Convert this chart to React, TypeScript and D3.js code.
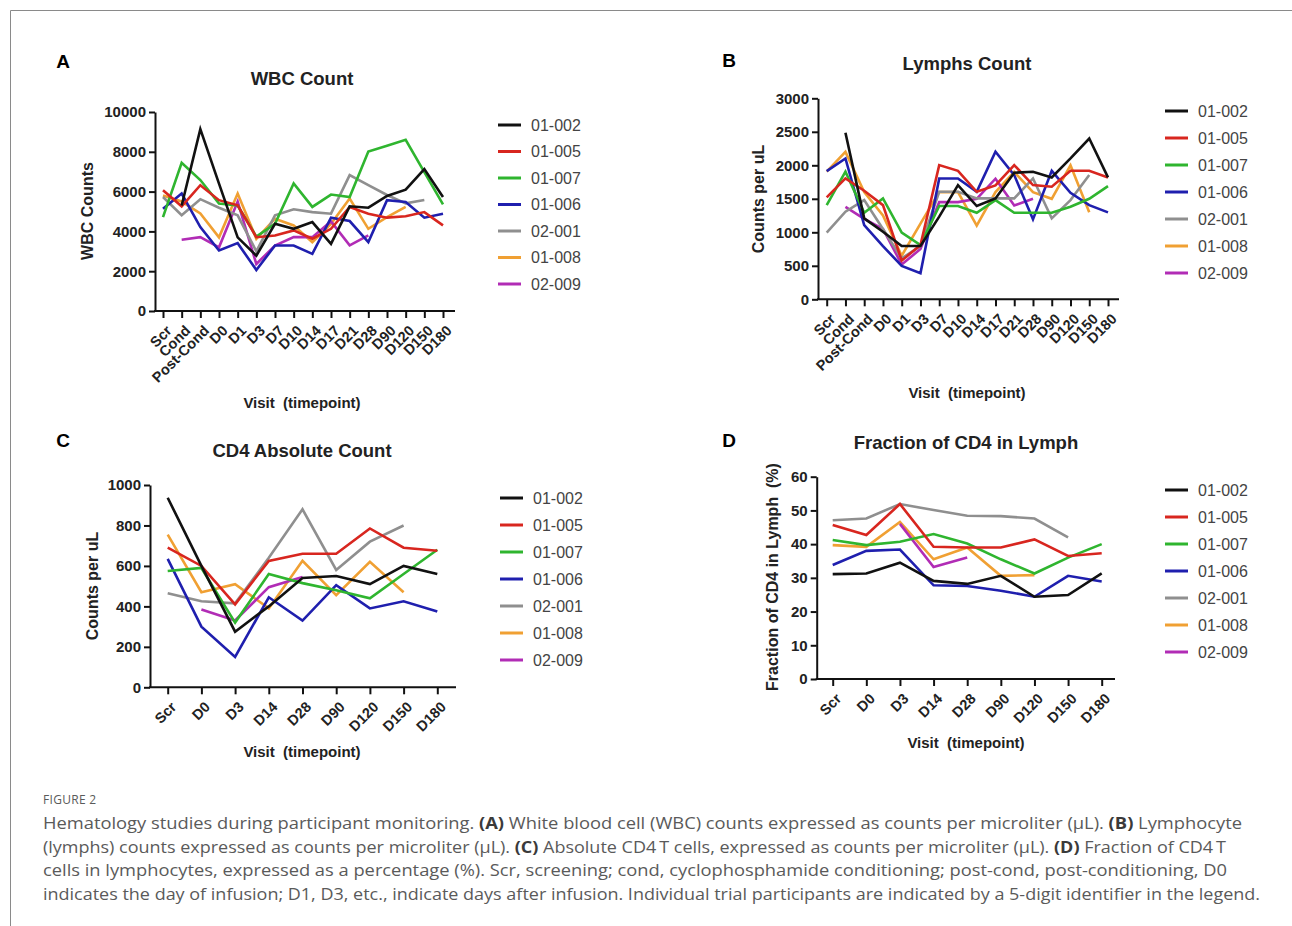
import * as d3 from "d3";
import React, { useEffect, useRef } from "react";

// participants + colours (legend order)
const participants = ["01-002", "01-005", "01-007", "01-006", "02-001", "01-008", "02-009"];
const lineColors = ["#111111", "#d8261f", "#2fb52f", "#1f1fae", "#8f8f8f", "#f0a033", "#b12cb5"];

const visitsLong = ["Scr", "Cond", "Post-Cond", "D0", "D1", "D3", "D7", "D10", "D14", "D17", "D21", "D28", "D90", "D120", "D150", "D180"];
const visitsShort = ["Scr", "D0", "D3", "D14", "D28", "D90", "D120", "D150", "D180"];

type V = number | null;

// A - WBC count
const wbc0102: V[] = [null, 5300, 9140, 6400, 3700, 2780, 4380, 4130, 4470, 3370, 5260, 5190, 5780, 6100, 7130, 5730];
const wbc0105: V[] = [6070, 5260, 6320, 5570, 5310, 3710, 3790, 4050, 3630, 4130, 5230, 4890, 4690, 4760, 4970, 4300];
const wbc0107: V[] = [4720, 7450, 6580, 5400, 5300, 3740, 4380, 6410, 5230, 5850, 5730, 8010, 8300, 8600, 6980, 5360];
const wbc0106: V[] = [5140, 5900, 4220, 3040, 3410, 2060, 3290, 3290, 2870, 4690, 4520, 3460, 5570, 5480, 4690, 4890];
const wbc0201: V[] = [5730, 4810, 5620, 5190, 4810, 3000, 4810, 5110, 4970, 4890, 6830, 6320, 5830, 5410, 5580, null];
const wbc0108: V[] = [5800, 5500, 4900, 3700, 5900, 3630, 4640, 4300, 3460, 4380, 5650, 4130, 4720, 5230, null, null];
const wbc0209: V[] = [null, 3580, 3710, 3200, 5500, 2360, 3290, 3710, 3710, 4500, 3300, 3800, null, null, null, null];

// B - lymphs count
const lym0102: V[] = [null, 2485, 1208, 1009, 795, 795, 1233, 1705, 1392, 1506, 1889, 1904, 1819, 2102, 2400, 1819];
const lym0105: V[] = [1521, 1804, 1620, 1406, 577, 810, 2003, 1918, 1605, 1700, 2003, 1705, 1680, 1918, 1918, 1819];
const lym0107: V[] = [1406, 1904, 1292, 1506, 994, 810, 1392, 1392, 1292, 1481, 1292, 1292, 1292, 1382, 1500, 1690];
const lym0106: V[] = [1913, 2102, 1108, 795, 497, 388, 1804, 1804, 1605, 2202, 1854, 1193, 1918, 1590, 1406, 1297];
const lym0201: V[] = [994, 1307, 1481, 1050, 611, 795, 1605, 1605, 1506, 1506, 1506, 1804, 1208, 1481, 1854, null];
const lym0108: V[] = [1905, 2200, 1600, 1250, 650, 1130, 1600, 1600, 1100, 1600, 1900, 1600, 1500, 2000, 1300, null];
const lym0209: V[] = [null, 1380, 1200, 1050, 520, 750, 1450, 1450, 1500, 1800, 1400, 1500, null, null, null, null];

// C - CD4 absolute
const cd40102: V[] = [937, 600, 275, 400, 540, 550, 510, 600, 560];
const cd40105: V[] = [690, 600, 410, 625, 660, 660, 785, 690, 675];
const cd40107: V[] = [575, 590, 320, 560, 515, 480, 440, 560, 680];
const cd40106: V[] = [635, 300, 150, 445, 330, 505, 390, 425, 375];
const cd40201: V[] = [465, 425, 415, 640, 880, 580, 720, 800, null];
const cd40108: V[] = [755, 470, 510, 390, 625, 455, 620, 470, null];
const cd40209: V[] = [null, 385, 330, 495, 545, null, null, null, null];

// D - fraction of CD4 in lymph (%)
const frc0102: V[] = [31.1, 31.3, 34.5, 29.1, 28.2, 30.6, 24.4, 24.9, 31.3];
const frc0105: V[] = [45.7, 42.7, 51.9, 39.2, 39.0, 39.0, 41.4, 36.5, 37.3];
const frc0107: V[] = [41.2, 39.7, 40.7, 43.0, 40.2, 35.5, 31.3, 36.0, 40.0];
const frc0106: V[] = [33.8, 38.0, 38.4, 27.8, 27.6, 26.2, 24.4, 30.6, 28.9];
const frc0201: V[] = [47.1, 47.6, 51.9, 50.1, 48.4, 48.3, 47.6, 42.0, null];
const frc0108: V[] = [39.7, 39.2, 46.6, 35.5, 39.0, 30.6, 30.8, null, null];
const frc0209: V[] = [null, null, 46.0, 33.2, 36.0, null, null, null, null];

const wbcTicks = [0, 2000, 4000, 6000, 8000, 10000];
const lymTicks = [0, 500, 1000, 1500, 2000, 2500, 3000];
const cd4Ticks = [0, 200, 400, 600, 800, 1000];
const frcTicks = [0, 10, 20, 30, 40, 50, 60];

const panels = [
  {
    letter: "A", lx: 63, ly: 61, title: "WBC Count", tx: 302, ty: 79, ylabel: "WBC Counts", ylx: 87, yly: 211,
    visits: visitsLong, series: [wbc0102, wbc0105, wbc0107, wbc0106, wbc0201, wbc0108, wbc0209], ticks: wbcTicks,
    axisX: 155, x0: 163, x1: 443, axisEnd: 455, yb: 311, yt: 112, xtx: 302, xty: 403,
    legX: 498, legY: 125, legStep: 26.5,
  },
  {
    letter: "B", lx: 729, ly: 60, title: "Lymphs Count", tx: 967, ty: 64, ylabel: "Counts per uL", ylx: 758, yly: 199,
    visits: visitsLong, series: [lym0102, lym0105, lym0107, lym0106, lym0201, lym0108, lym0209], ticks: lymTicks,
    axisX: 818, x0: 826.7, x1: 1108, axisEnd: 1119, yb: 299.3, yt: 98.3, xtx: 967, xty: 393,
    legX: 1165, legY: 111, legStep: 27,
  },
  {
    letter: "C", lx: 63, ly: 440, title: "CD4 Absolute Count", tx: 302, ty: 451, ylabel: "Counts per uL", ylx: 92, yly: 586,
    visits: visitsShort, series: [cd40102, cd40105, cd40107, cd40106, cd40201, cd40108, cd40209], ticks: cd4Ticks,
    axisX: 150, x0: 167.7, x1: 437.3, axisEnd: 456, yb: 687.3, yt: 485, xtx: 302, xty: 752,
    legX: 500, legY: 498, legStep: 27,
  },
  {
    letter: "D", lx: 729, ly: 440, title: "Fraction of CD4 in Lymph", tx: 966, ty: 443, ylabel: "Fraction of CD4 in Lymph  (%)", ylx: 772, yly: 577,
    visits: visitsShort, series: [frc0102, frc0105, frc0107, frc0106, frc0201, frc0108, frc0209], ticks: frcTicks,
    axisX: 816.7, x0: 832.7, x1: 1101.7, axisEnd: 1115, yb: 679, yt: 476.7, xtx: 966, xty: 743,
    legX: 1165, legY: 490, legStep: 27,
  },
];

const drawOrder = [5, 6, 4, 3, 2, 1, 0];

const App: React.FC = () => {
  const ref = useRef<SVGSVGElement>(null);

  useEffect(() => {
    const svg = d3.select(ref.current);
    svg.selectAll("*").remove();
    const font = "'Liberation Sans', Arial, sans-serif";

    // frame
    svg.append("path").attr("d", "M10.5,926 V10.5 H1292").attr("fill", "none").attr("stroke", "#8a8a8a").attr("stroke-width", 1);

    panels.forEach(p => {
      const g = svg.append("g").attr("font-family", font);
      const x = d3.scalePoint<string>().domain(p.visits).range([p.x0, p.x1]);
      const y = d3.scaleLinear().domain([0, p.ticks[p.ticks.length - 1]]).range([p.yb, p.yt]);

      g.append("text").attr("x", p.lx).attr("y", p.ly).attr("dy", "0.35em").attr("text-anchor", "middle")
        .attr("font-size", 19).attr("font-weight", "bold").text(p.letter);
      g.append("text").attr("x", p.tx).attr("y", p.ty).attr("dy", "0.35em").attr("text-anchor", "middle")
        .attr("font-size", 18.5).attr("font-weight", "bold").attr("fill", "#222").text(p.title);

      // lines
      const line = d3.line<V>()
        .defined(d => d != null)
        .x((d, i) => x(p.visits[i])!)
        .y(d => y(d as number));
      drawOrder.forEach(k => {
        g.append("path").datum(p.series[k]).attr("d", line)
          .attr("fill", "none").attr("stroke", lineColors[k]).attr("stroke-width", 2.6)
          .attr("stroke-linejoin", "miter");
      });

      // y axis
      const ya = g.append("g").attr("transform", `translate(${p.axisX},0)`)
        .call(d3.axisLeft(y).tickValues(p.ticks).tickFormat(d3.format("d")).tickSize(6).tickPadding(3).tickSizeOuter(0));
      ya.attr("font-family", font);
      ya.select(".domain").attr("stroke", "#111").attr("stroke-width", 2);
      ya.selectAll(".tick line").attr("stroke", "#111").attr("stroke-width", 2);
      ya.selectAll(".tick text").attr("font-size", 15).attr("font-weight", "bold").attr("fill", "#222");

      // x axis
      g.append("line").attr("x1", p.axisX - 1).attr("x2", p.axisEnd).attr("y1", p.yb).attr("y2", p.yb)
        .attr("stroke", "#111").attr("stroke-width", 2);
      const xa = g.append("g").attr("transform", `translate(0,${p.yb})`)
        .call(d3.axisBottom(x).tickSize(7).tickFormat(() => ""));
      xa.select(".domain").remove();
      xa.selectAll(".tick line").attr("stroke", "#111").attr("stroke-width", 2);
      g.selectAll(null).data(p.visits).join("text")
        .attr("transform", d => `translate(${x(d)! + 6},${p.yb + 17}) rotate(-45)`)
        .attr("text-anchor", "end").attr("dy", "0.35em")
        .attr("font-size", 14.5).attr("font-weight", "bold").attr("fill", "#222")
        .text(d => d);

      g.append("text").attr("transform", `translate(${p.ylx},${p.yly}) rotate(-90)`).attr("dy", "0.35em")
        .attr("text-anchor", "middle").attr("font-size", 16).attr("font-weight", "bold").attr("fill", "#222")
        .style("white-space", "pre")
        .text(p.ylabel);
      g.append("text").attr("x", p.xtx).attr("y", p.xty).attr("dy", "0.35em").attr("text-anchor", "middle")
        .attr("font-size", 15).attr("font-weight", "bold").attr("fill", "#222")
        .style("white-space", "pre")
        .text("Visit  (timepoint)");

      // legend
      participants.forEach((name, i) => {
        const ly = p.legY + i * p.legStep;
        g.append("line").attr("x1", p.legX).attr("x2", p.legX + 23).attr("y1", ly).attr("y2", ly)
          .attr("stroke", lineColors[i]).attr("stroke-width", 3);
        g.append("text").attr("x", p.legX + 33).attr("y", ly).attr("dy", "0.35em")
          .attr("font-size", 16).attr("fill", "#444").text(name);
      });
    });

    // caption
    const cap = svg.append("g").attr("font-family", "'Open Sans', 'Noto Sans', sans-serif").attr("fill", "#5a5a5a");
    cap.append("text").attr("x", 43).attr("y", 804).attr("font-size", 12).attr("letter-spacing", 0.3).text("FIGURE 2");
    const lines: [string, boolean][][] = [
      [["Hematology studies during participant monitoring. ", false], ["(A)", true], [" White blood cell (WBC) counts expressed as counts per microliter (\u00b5L). ", false], ["(B)", true], [" Lymphocyte", false]],
      [["(lymphs) counts expressed as counts per microliter (\u00b5L). ", false], ["(C)", true], [" Absolute CD4\u2009T cells, expressed as counts per microliter (\u00b5L). ", false], ["(D)", true], [" Fraction of CD4\u2009T", false]],
      [["cells in lymphocytes, expressed as a percentage (%). Scr, screening; cond, cyclophosphamide conditioning; post-cond, post-conditioning, D0", false]],
      [["indicates the day of infusion; D1, D3, etc., indicate days after infusion. Individual trial participants are indicated by a 5-digit identifier in the legend.", false]],
    ];
    const widths = [1199, 1183, 1184, 1217];
    lines.forEach((parts, i) => {
      const t = cap.append("text").attr("x", 43).attr("y", 829 + i * 23.5).attr("font-size", 16)
        .attr("textLength", widths[i]).attr("lengthAdjust", "spacingAndGlyphs");
      parts.forEach(([s, b]) => {
        t.append("tspan").attr("font-weight", b ? "bold" : "normal").attr("fill", b ? "#3a3a3a" : "#5a5a5a").text(s);
      });
    });

    return () => {
      svg.selectAll("*").remove();
    };
  }, []);

  return (
    <svg ref={ref} width={1292} height={926} viewBox="0 0 1292 926"
      style={{ position: "absolute", left: 0, top: 0, background: "#fff" }} />
  );
};

export default App;
